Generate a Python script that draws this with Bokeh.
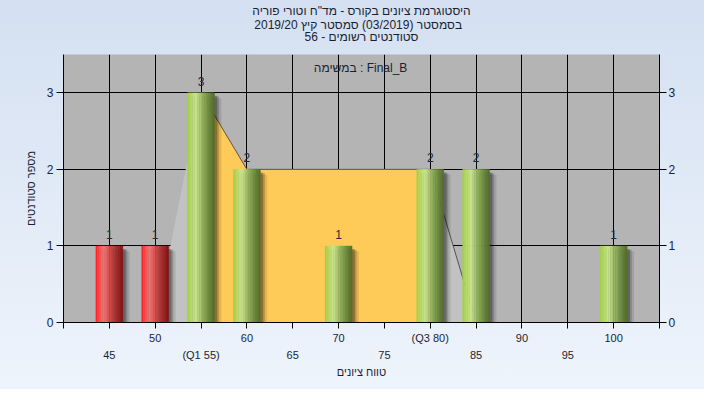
from bokeh.plotting import figure
from bokeh.models import Range1d, LinearAxis, FixedTicker, Label, Title, ColumnDataSource
from bokeh.embed import file_html
from bokeh.resources import INLINE
from bokeh.core.properties import value

# ---------------- data ----------------
scores = [45, 50, 55, 60, 65, 70, 75, 80, 85, 90, 95, 100]
counts = [1, 1, 3, 2, 0, 1, 0, 2, 2, 0, 0, 1]
pass_mark = 55
q1 = 55
q3 = 80
curve_x = [50, 55, 60, 65, 70, 75, 80, 85]
curve_y = [0, 3, 2, 2, 2, 2, 2, 0]
grid_ticks = [40, 45, 50, 55, 60, 65, 70, 75, 80, 85, 90, 95, 100, 105]
row1_ticks = [50, 60, 70, 80, 90, 100]
row1_labels = ["50", "60", "70", "(Q3 80)", "90", "100"]
row2_ticks = [45, 55, 65, 75, 85, 95]
row2_labels = ["45", "(Q1 55)", "65", "75", "85", "95"]
y_ticks = [0, 1, 2, 3]
title_lines = [
    'היסטוגרמת ציונים בקורס - מד"ח וטורי פוריה',
    'בסמסטר  (03/2019)  סמסטר קיץ 2019/20',
    'סטודנטים רשומים - 56',
]
task_label = "במשימה : Final_B"
x_axis_title = "טווח ציונים"
y_axis_title = "מספר סטודנטים"

FONT = "Liberation Sans"
TXT = "#1a1f33"

p = figure(width=704, height=389, x_range=Range1d(40, 105), y_range=Range1d(0, 3.5),
           output_backend="svg", toolbar_location=None,
           min_border_left=63, min_border_right=45, min_border_top=54, min_border_bottom=67)
p.background_fill_color = "#b4b4b4"
p.border_fill_alpha = 0
p.styles = {"background": "linear-gradient(to bottom, #d4e0f1, #eef4fc)"}
p.outline_line_color = None

# spacer between the frame and the title block
p.add_layout(Title(text=" ", text_font=FONT, text_font_size="12px", standoff=-3.5), "above")
# title lines (added nearest-first)
standoffs = [0, -3, -5]
for line, so in reversed(list(zip(title_lines, standoffs))):
    p.add_layout(Title(text=line, align="center", text_font=FONT, text_font_size="12px",
                       text_font_style="normal", text_color=TXT, standoff=so), "above")

# grids
p.xgrid.ticker = FixedTicker(ticks=grid_ticks)
p.ygrid.ticker = FixedTicker(ticks=y_ticks)
for g in (p.xgrid, p.ygrid):
    g.grid_line_color = "black"
    g.grid_line_width = 1

# bottom axis row 1
xa = p.xaxis[0]
xa.ticker = FixedTicker(ticks=grid_ticks)
ov = {t: "" for t in grid_ticks}
for t, l in zip(row1_ticks, row1_labels):
    ov[t] = l
xa.major_label_overrides = ov
xa.major_tick_out = 6
xa.major_tick_in = 0
xa.minor_tick_line_color = None
xa.major_label_standoff = 3
xa.axis_line_color = "black"
xa.major_tick_line_color = "black"
xa.major_label_text_font = FONT
xa.major_label_text_font_size = "11px"
xa.major_label_text_color = TXT

# bottom axis row 2
xa2 = LinearAxis(ticker=FixedTicker(ticks=row2_ticks),
                 major_label_overrides={t: l for t, l in zip(row2_ticks, row2_labels)})
xa2.major_tick_out = 0
xa2.major_tick_in = 0
xa2.minor_tick_line_color = None
xa2.axis_line_color = None
xa2.major_tick_line_color = None
xa2.major_label_standoff = 2
xa2.major_label_text_font = FONT
xa2.major_label_text_font_size = "11px"
xa2.major_label_text_color = TXT
xa2.axis_label = x_axis_title
xa2.axis_label_standoff = 2
xa2.axis_label_text_font = FONT
xa2.axis_label_text_font_size = "11px"
xa2.axis_label_text_font_style = "normal"
xa2.axis_label_text_color = TXT
p.add_layout(xa2, "below")

# left axis
ya = p.yaxis[0]
ya.ticker = FixedTicker(ticks=y_ticks)
ya.major_tick_out = 7
ya.major_tick_in = 0
ya.minor_tick_line_color = None
ya.major_label_standoff = 3
ya.axis_line_color = "black"
ya.major_label_text_font = FONT
ya.major_label_text_font_size = "12px"
ya.major_label_text_color = "#14234a"
ya.axis_label = y_axis_title
ya.axis_label_standoff = 7
ya.axis_label_text_font = FONT
ya.axis_label_text_font_size = "11px"
ya.axis_label_text_font_style = "normal"
ya.axis_label_text_color = TXT

# right axis
ra = LinearAxis(ticker=FixedTicker(ticks=y_ticks))
ra.major_tick_out = 7
ra.major_tick_in = 0
ra.minor_tick_line_color = None
ra.major_label_standoff = 2
ra.axis_line_color = "black"
ra.major_label_text_font = FONT
ra.major_label_text_font_size = "12px"
ra.major_label_text_color = "#14234a"
p.add_layout(ra, "right")

# distribution areas
gx = curve_x + [curve_x[-1], curve_x[0]]
gy = curve_y + [0, 0]
p.patch(gx, gy, fill_color="#c2c2c2", line_color=None)
inner = [(x, y) for x, y in zip(curve_x, curve_y) if q1 <= x <= q3]
yx = [x for x, _ in inner] + [inner[-1][0], inner[0][0]]
yy = [y for _, y in inner] + [0, 0]
p.patch(yx, yy, fill_color="#ffcb58", line_color=None)
lx = [x for x in curve_x if x >= q1]
ly = [y for x, y in zip(curve_x, curve_y) if x >= q1]
p.line(lx, ly, line_color="#3a3a3a", line_width=1, line_alpha=0.8)

# bars
W = 2.95
N = 16
def interp(stops, t):
    for (t0, c0), (t1, c1) in zip(stops[:-1], stops[1:]):
        if t0 <= t <= t1:
            f = (t - t0) / (t1 - t0) if t1 > t0 else 0
            c = [round(a + (b - a) * f) for a, b in zip(c0, c1)]
            return "#%02x%02x%02x" % tuple(c)
    return "#%02x%02x%02x" % tuple(stops[-1][1])

green = [(0, (160, 206, 66)), (0.14, (182, 218, 104)), (0.32, (204, 230, 146)),
         (0.55, (150, 180, 96)), (0.8, (108, 138, 62)), (1.0, (82, 108, 42))]
red = [(0, (255, 28, 28)), (0.14, (250, 78, 78)), (0.3, (240, 118, 118)),
       (0.55, (204, 72, 72)), (0.8, (160, 40, 40)), (1.0, (122, 20, 20))]

bx, bc = [], []
for s, c in zip(scores, counts):
    if c > 0:
        bx.append(s)
        bc.append(c)

# shadows
p.vbar(x=[x + 0.5 for x in bx], width=W + 0.5, top=[c - 0.07 for c in bc], bottom=0,
       fill_color="black", fill_alpha=0.10, line_color=None)
p.vbar(x=[x + 0.42 for x in bx], width=W + 0.15, top=[c - 0.05 for c in bc], bottom=0,
       fill_color="black", fill_alpha=0.18, line_color=None)
p.vbar(x=[x + 0.35 for x in bx], width=W - 0.1, top=[c - 0.04 for c in bc], bottom=0,
       fill_color="black", fill_alpha=0.25, line_color=None)

sx, st, scol = [], [], []
for s, c in zip(bx, bc):
    stops = red if s < pass_mark else green
    for k in range(N):
        t = (k + 0.5) / N
        sx.append(s - W / 2 + t * W)
        st.append(c)
        scol.append(interp(stops, t))
src = ColumnDataSource(dict(x=sx, top=st, color=scol))
p.vbar(x="x", top="top", bottom=0, width=W / N * 1.04, source=src,
       fill_color="color", line_color="color", line_width=0.3)

# value labels
p.text(x=bx, y=bc, text=[str(c) for c in bc], text_align="center", text_baseline="bottom",
       y_offset=-7, text_font=value(FONT), text_font_size="12px", text_color="#222a3a")

p.add_layout(Label(x=72.4, y=3.32, text=task_label, text_align="center", text_baseline="middle",
                   text_font=FONT, text_font_size="12px", text_color=TXT))

open("out.html", "w").write(file_html(p, INLINE))
